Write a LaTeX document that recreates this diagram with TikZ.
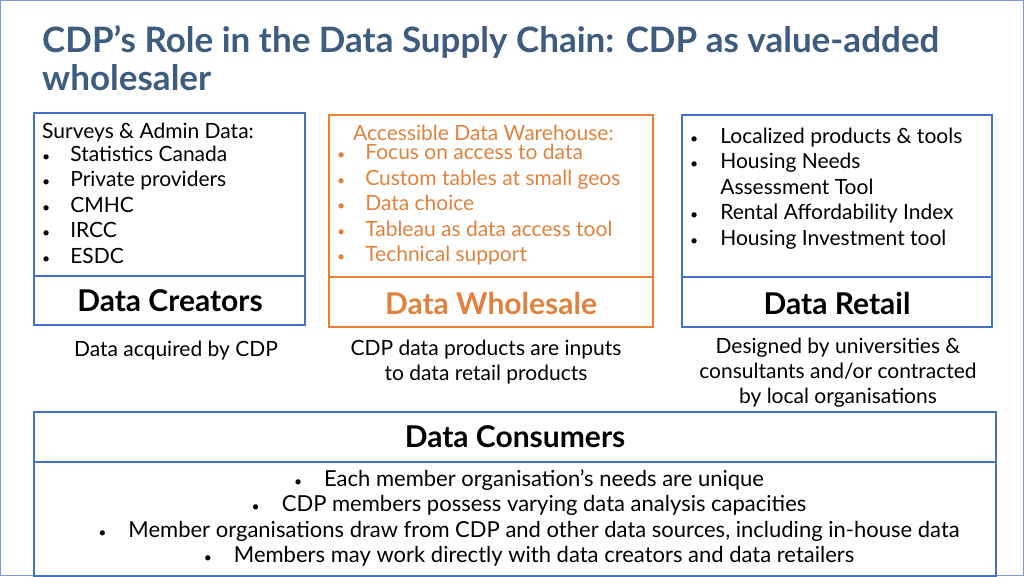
\documentclass[tikz,border=0pt]{standalone}
\usepackage{fontspec}
\setmainfont{Lato}
\definecolor{bbox}{HTML}{4472C4}
\definecolor{obox}{HTML}{ED7D31}
\definecolor{otext}{HTML}{E0823D}
\definecolor{ttl}{HTML}{3E5C7E}
\tikzset{bx/.style={draw=bbox,line width=2.4pt},ob/.style={draw=obox,line width=2.4pt},
 lst/.style={anchor=north west,inner sep=0pt,align=left,font=\fontsize{21}{25.5}\selectfont},
 hd/.style={font=\fontsize{30}{32}\selectfont\bfseries}}
\newcommand{\bl}{{\fontsize{14}{14}\selectfont\textbullet}}
\begin{document}
\begin{tikzpicture}[x=1pt,y=-1pt]
\useasboundingbox (0,0) rectangle (1024,576);
\draw[bbox!70,line width=1pt] (0.5,0.5) rectangle (1023.5,575.5);
\node[anchor=north west,inner sep=0pt,align=left,text=ttl,font=\fontsize{35}{38}\selectfont\bfseries] (title) at (42,25) {CDP’s Role in the Data Supply Chain: CDP as value-added\\wholesaler};
% left
\draw[bx] (34,113) rectangle (305,276);
\draw[bx] (34,276) rectangle (305,325);
\node[lst] (l) at (42,123) {Surveys \& Admin Data:\\
\begin{tabular}{@{}l@{\hspace{20pt}}l@{}}\bl&Statistics Canada\\\bl&Private providers\\\bl&CMHC\\\bl&IRCC\\\bl&ESDC\end{tabular}};
\node[hd] (dc) at (170,301) {Data Creators};
\node[font=\fontsize{21}{25}\selectfont] (dcs) at (176,351) {Data acquired by CDP};
% middle
\draw[ob] (329,115) rectangle (653,277);
\draw[ob] (329,277) rectangle (653,327);
\node[lst,text=otext] (m) at (337,125) {\hspace{16pt}Accessible Data Warehouse:\\
\begin{tabular}{@{}l@{\hspace{20pt}}l@{}}\bl&Focus on access to data\\\bl&Custom tables at small geos\\\bl&Data choice\\\bl&Tableau as data access tool\\\bl&Technical support\end{tabular}};
\node[hd,text=otext] (dw) at (491,303) {Data Wholesale};
\node[font=\fontsize{21}{25}\selectfont,align=center] (dws) at (486,362) {CDP data products are inputs\\to data retail products};
% right
\draw[bx] (682,115) rectangle (992,277);
\draw[bx] (682,277) rectangle (992,327);
\node[lst] (r) at (690,125) {\begin{tabular}{@{}l@{\hspace{22pt}}l@{}}\bl&Localized products \& tools\\\bl&Housing Needs\\&Assessment Tool\\\bl&Rental Affordability Index\\\bl&Housing Investment tool\end{tabular}};
\node[hd] (dr) at (837,303) {Data Retail};
\node[font=\fontsize{21}{25}\selectfont,align=center] (drs) at (838,373) {Designed by universities \&\\consultants and/or contracted\\by local organisations};
% consumers
\draw[bx] (34,412) rectangle (996,462);
\draw[bx] (34,462) rectangle (996,576);
\node[hd] (cons) at (515,437) {Data Consumers};
\node[font=\fontsize{22}{25.5}\selectfont,align=center,inner sep=0pt] (cl) at (529,518) {\bl\hspace{22pt}Each member organisation’s needs are unique\\
\bl\hspace{22pt}CDP members possess varying data analysis capacities\\
\bl\hspace{22pt}Member organisations draw from CDP and other data sources, including in-house data\\
\bl\hspace{22pt}Members may work directly with data creators and data retailers};
\end{tikzpicture}
\end{document}
